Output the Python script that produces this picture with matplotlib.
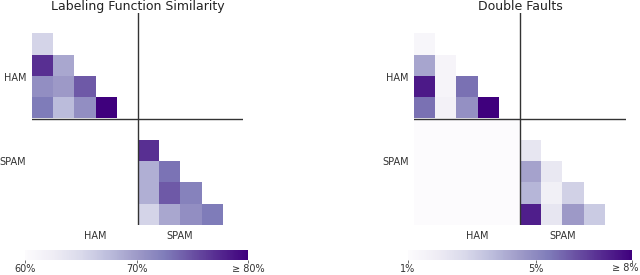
import numpy as np
import matplotlib
matplotlib.use("Agg")
import matplotlib.pyplot as plt

groups = ["HAM", "SPAM"]
n_per_group = 5

# lower triangle rows (row i has i values), in percent
sim_ham = [[65.5], [77, 69], [71, 70, 74.5], [72.5, 67.5, 71, 82]]
sim_spam = [[77], [68.5, 73], [68.5, 74.5, 72], [65.5, 69, 71, 72.5]]

df_ham = [[1.3], [4.2, 1.4], [7.4, 1.4, 5.6], [5.6, 1.6, 4.8, 8.5]]
df_spam = [[2.2], [4.3, 2.1], [3.8, 1.7, 3.0], [7.3, 2.2, 4.5, 3.2]]
df_cross = [[1.0, 1.0, 1.0, 1.0, 1.0],
            [1.0, 1.0, 1.0, 1.0, 1.0],
            [1.0, 1.0, 1.0, 1.0, 1.0],
            [1.0, 1.0, 1.0, 1.0, 1.0],
            [1.0, 1.0, 1.0, 1.0, 1.0]]

sim_range = (60, 80)
sim_ticks = [60, 70, 80]
sim_ticklabels = ["60%", "70%", "\u2265 80%"]
df_range = (1, 8)
df_ticks = [1, 5, 8]
df_ticklabels = ["1%", "5%", "\u2265 8%"]


def build(ham, spam, cross=None):
    n = 2 * n_per_group
    m = np.full((n, n), np.nan)
    for i, row in enumerate(ham):
        for j, v in enumerate(row):
            m[i + 1, j] = v
    for i, row in enumerate(spam):
        for j, v in enumerate(row):
            m[n_per_group + i + 1, n_per_group + j] = v
    if cross is not None:
        m[n_per_group:, :n_per_group] = np.array(cross)
    return m


def panel(ax, cax, mat, vrange, title, ticks, ticklabels, last_right=False):
    im = ax.imshow(mat, cmap="Purples", vmin=vrange[0], vmax=vrange[1],
                   interpolation="nearest", aspect="auto")
    ax.axhline(n_per_group - 0.5, color="#333333", lw=1)
    ax.axvline(n_per_group - 0.5, color="#333333", lw=1)
    pos = [2.5, 6.5]
    ax.set_xticks(pos)
    ax.set_xticklabels(groups, fontsize=7, color="#333333")
    ax.set_yticks(pos)
    ax.set_yticklabels(groups, fontsize=7, color="#333333")
    ax.tick_params(length=0, pad=4)
    for s in ax.spines.values():
        s.set_visible(False)
    ax.set_title(title, fontsize=9, color="#222222", pad=2)
    cb = plt.colorbar(im, cax=cax, orientation="horizontal")
    cb.outline.set_visible(False)
    cb.set_ticks(ticks)
    labels = list(ticklabels)
    if last_right:
        # last label would run past the figure edge, draw it by hand
        labels[-1] = ""
    cb.set_ticklabels(labels)
    cb.ax.tick_params(labelsize=7, length=2, width=0.5, colors="#333333", pad=1)
    if last_right:
        fig.text(0.997, cax.get_position().y0 - 0.012, ticklabels[-1],
                 ha="right", va="top", fontsize=7, color="#333333")


fig = plt.figure(figsize=(6.4, 2.75), dpi=100)
ax1 = fig.add_axes([0.05, 0.182, 0.33, 0.771])
ax2 = fig.add_axes([0.647, 0.182, 0.331, 0.771])
cax1 = fig.add_axes([0.039, 0.055, 0.349, 0.036])
cax2 = fig.add_axes([0.6375, 0.055, 0.35, 0.036])

panel(ax1, cax1, build(sim_ham, sim_spam), sim_range,
      "Labeling Function Similarity", sim_ticks, sim_ticklabels)
panel(ax2, cax2, build(df_ham, df_spam, df_cross), df_range,
      "Double Faults", df_ticks, df_ticklabels, last_right=True)

fig.savefig("out.png", dpi=100)
